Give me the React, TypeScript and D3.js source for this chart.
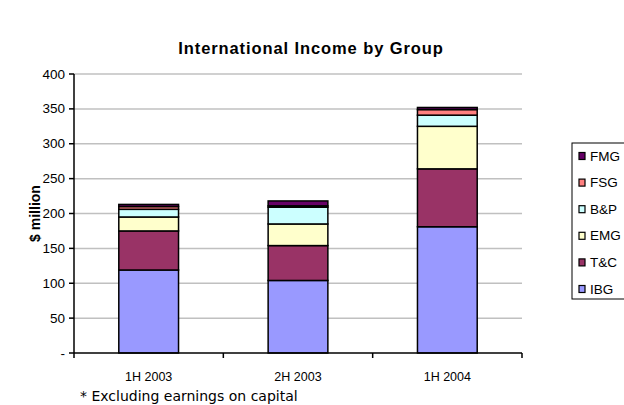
import React from "react";
import * as d3 from "d3";

const categories = ["1H 2003", "2H 2003", "1H 2004"];
const seriesNames = ["IBG", "T&C", "EMG", "B&P", "FSG", "FMG"];
const IBG = [119, 104, 181];
const TC = [56, 50, 83];
const EMG = [20, 31, 61];
const BP = [11, 24, 16];
const FSG = [4, 2, 8];
const FMG = [3, 7, 3];
const colors = ["#9999FF", "#993366", "#FFFFCC", "#CCFFFF", "#FF8080", "#660066"];
const yTicks = [0, 50, 100, 150, 200, 250, 300, 350, 400];

const W = 624, H = 405;
const left = 74, right = 522, top = 74, bottom = 353;
const font = "Liberation Sans, Arial, sans-serif";

export default function App() {
  const values = [IBG, TC, EMG, BP, FSG, FMG];
  const rows = categories.map((c, i) => {
    const r: any = { cat: c };
    seriesNames.forEach((s, k) => (r[s] = values[k][i]));
    return r;
  });
  const stack = d3.stack<any>().keys(seriesNames)(rows);
  const x = d3.scaleBand().domain(categories).range([left, right]).paddingInner(0.6).paddingOuter(0.3);
  const xb = d3.scaleBand().domain(categories).range([left, right]);
  const y = d3.scaleLinear().domain([0, 400]).range([bottom, top]);

  return (
    <svg width={W} height={H} style={{ position: "absolute", left: 0, top: 0, background: "#fff" }}>
      <text x={311} y={54} textAnchor="middle" fontFamily={font} fontWeight="bold" fontSize={16.5} letterSpacing={0.9}>
        International Income by Group
      </text>
      {yTicks.slice(1).map((t) => (
        <line key={t} x1={left} x2={right} y1={y(t)} y2={y(t)} stroke="#c0c0c0" strokeWidth={1.5} />
      ))}
      {stack.map((s, k) =>
        s.map((d, i) => (
          <rect
            key={k + "-" + i}
            x={x(categories[i])!}
            width={x.bandwidth()}
            y={y(d[1])}
            height={y(d[0]) - y(d[1])}
            fill={colors[k]}
            stroke="#000"
            strokeWidth={1.5}
          />
        ))
      )}
      <line x1={left} x2={left} y1={top} y2={bottom} stroke="#000" strokeWidth={1.5} />
      <line x1={left} x2={right} y1={bottom} y2={bottom} stroke="#000" strokeWidth={1.5} />
      {yTicks.map((t) => (
        <g key={t}>
          <line x1={left - 5} x2={left} y1={y(t)} y2={y(t)} stroke="#000" strokeWidth={1.5} />
          <text x={left - 9} y={y(t) + 4.5} textAnchor="end" fontFamily={font} fontSize={13.5}>
            {t === 0 ? "-" : t}
          </text>
        </g>
      ))}
      {[...categories.map((c) => xb(c)!), right].map((v, i) => (
        <line key={i} x1={v} x2={v} y1={bottom} y2={bottom + 5} stroke="#000" strokeWidth={1.5} />
      ))}
      {categories.map((c) => (
        <text key={c} x={xb(c)! + xb.bandwidth() / 2} y={381} textAnchor="middle" fontFamily={font} fontSize={12.5}>
          {c}
        </text>
      ))}
      <text
        transform={`translate(40,${(top + bottom) / 2}) rotate(-90)`}
        textAnchor="middle"
        fontFamily={font}
        fontWeight="bold"
        fontSize={14}
      >
        $ million
      </text>
      <text x={80} y={401} fontFamily="DejaVu Sans, Verdana, sans-serif" fontSize={14}>
        * Excluding earnings on capital
      </text>
      <rect x={572} y={143} width={60} height={156} fill="#fff" stroke="#000" strokeWidth={1} />
      {seriesNames
        .slice()
        .reverse()
        .map((s, j) => {
          const k = seriesNames.length - 1 - j;
          const cy = 156 + j * 26.6;
          return (
            <g key={s}>
              <rect x={579} y={cy - 3.5} width={6} height={7} fill={colors[k]} stroke="#000" strokeWidth={1.2} />
              <text x={590} y={cy + 4.5} fontFamily={font} fontSize={13.5}>
                {s}
              </text>
            </g>
          );
        })}
    </svg>
  );
}
